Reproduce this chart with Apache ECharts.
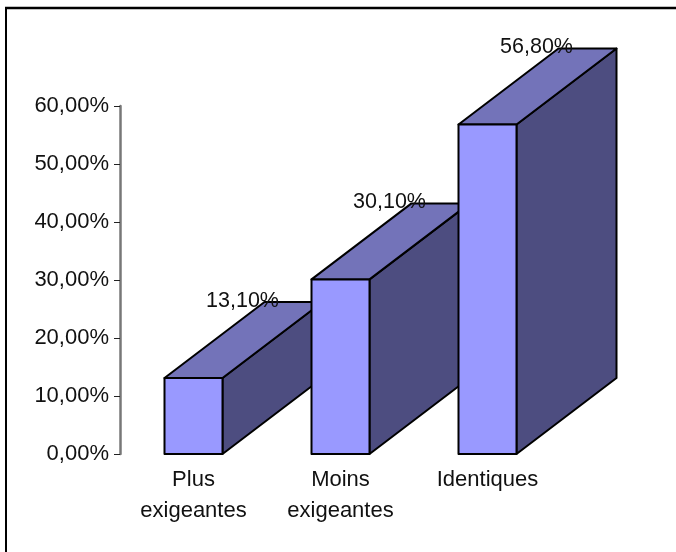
<!DOCTYPE html>
<html>
<head>
<meta charset="utf-8">
<style>html,body{margin:0;padding:0;background:#fff}#c{width:676px;height:552px}</style>
<script src="https://cdn.jsdelivr.net/npm/echarts@6/dist/echarts.min.js"></script>
</head>
<body>
<div id="c"></div>
<script>
const categories = ['Plus\nexigeantes', 'Moins\nexigeantes', 'Identiques'];
const values = [13.1, 30.1, 56.8];
const valueLabels = ['13,10%', '30,10%', '56,80%'];
const yTicks = ['0,00%', '10,00%', '20,00%', '30,00%', '40,00%', '50,00%', '60,00%'];

const FONT = '"Liberation Sans", Arial, sans-serif';
const chart = echarts.init(document.getElementById('c'), null, {renderer: 'canvas'});

function renderBar(params, api) {
  const i = api.value(0);
  const top = api.coord([i, api.value(1)]);
  const base = api.coord([i, 0]);
  const w = 58, dx = 100, dy = -76;
  const l = top[0] - w / 2, r = top[0] + w / 2, t = top[1], b = base[1];
  const stroke = {stroke: '#000', lineWidth: 2, lineJoin: 'round'};
  return {
    type: 'group',
    children: [
      {type: 'polygon', shape: {points: [[r, t], [r + dx, t + dy], [r + dx, b + dy], [r, b]]},
        style: Object.assign({fill: '#4d4d80'}, stroke)},
      {type: 'polygon', shape: {points: [[l, t], [l + dx, t + dy], [r + dx, t + dy], [r, t]]},
        style: Object.assign({fill: '#7373b9'}, stroke)},
      {type: 'rect', shape: {x: l, y: t, width: r - l, height: b - t},
        style: Object.assign({fill: '#9999ff'}, stroke)},
      {type: 'text', x: top[0] + 49, y: t + dy - 1,
        style: {text: valueLabels[i], fill: '#111', font: '21.5px ' + FONT, align: 'center', verticalAlign: 'middle'}, z2: 10}
    ]
  };
}

chart.setOption({
  animation: false,
  backgroundColor: '#fff',
  graphic: [
    {type: 'line', shape: {x1: 6, y1: 8, x2: 6, y2: 552}, style: {stroke: '#000', lineWidth: 2}},
    {type: 'line', shape: {x1: 5, y1: 8, x2: 676, y2: 8}, style: {stroke: '#000', lineWidth: 2.5}}
  ],
  grid: {left: 120, top: 106, width: 441, height: 348, containLabel: false},
  xAxis: {
    type: 'category',
    data: categories,
    axisLine: {show: false},
    axisTick: {show: false},
    axisLabel: {color: '#111', fontFamily: FONT, fontSize: 22, lineHeight: 31, margin: 10, interval: 0}
  },
  yAxis: {
    type: 'value',
    min: 0,
    max: 60,
    interval: 10,
    splitLine: {show: false},
    axisLine: {show: true, lineStyle: {color: '#777', width: 2.5}},
    axisTick: {show: true, length: 6, lineStyle: {color: '#222', width: 1}},
    axisLabel: {
      color: '#111', fontFamily: FONT, fontSize: 22, margin: 11,
      formatter: function (v) { return yTicks[v / 10]; }
    }
  },
  series: [{
    type: 'custom',
    coordinateSystem: 'cartesian2d',
    clip: false,
    encode: {x: 0, y: 1},
    renderItem: renderBar,
    data: values.map(function (v, i) { return [i, v]; })
  }]
});
</script>
</body>
</html>
